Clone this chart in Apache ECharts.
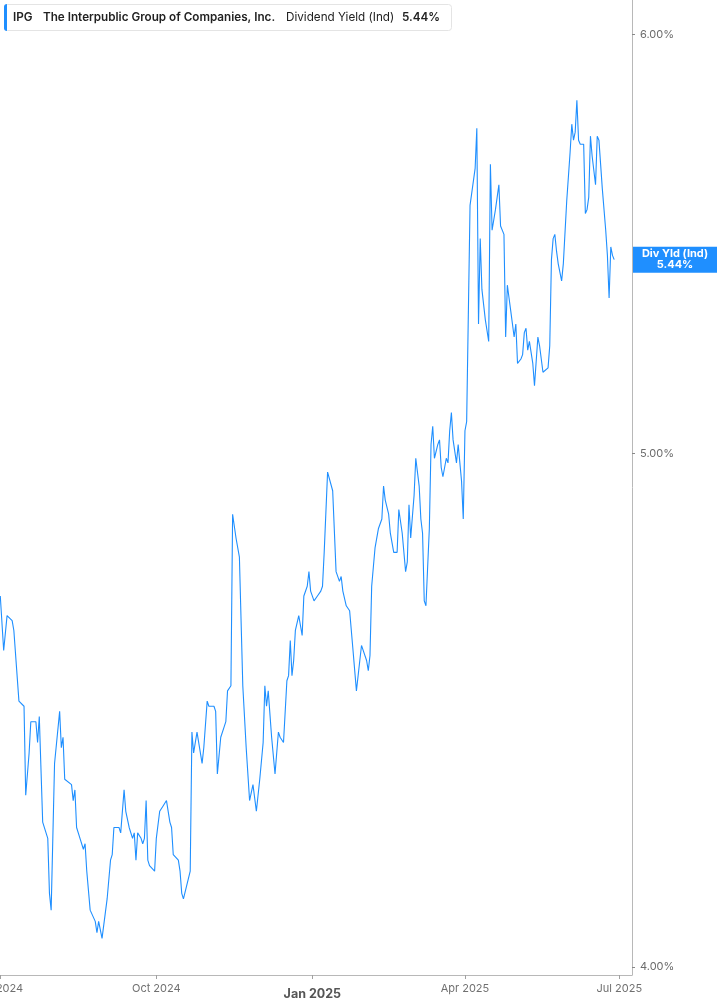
<!DOCTYPE html>
<html><head><meta charset="utf-8">
<script src="https://cdn.jsdelivr.net/npm/echarts@6/dist/echarts.min.js"></script>
<style>html,body{margin:0;padding:0;background:#fff}#c{width:717px;height:1005px}</style>
</head><body><div id="c"></div>
<script>
const dates = [
'2024-07-01','2024-07-03','2024-07-05','2024-07-08','2024-07-09','2024-07-10','2024-07-12','2024-07-15','2024-07-16','2024-07-18',
'2024-07-19','2024-07-22','2024-07-23','2024-07-24','2024-07-26','2024-07-29','2024-07-30','2024-07-31','2024-08-02','2024-08-05',
'2024-08-06','2024-08-07','2024-08-08','2024-08-09','2024-08-12','2024-08-13','2024-08-14','2024-08-15','2024-08-17','2024-08-19',
'2024-08-20','2024-08-21','2024-08-22','2024-08-23','2024-08-26','2024-08-27','2024-08-28','2024-08-29','2024-08-30','2024-09-02',
'2024-09-04','2024-09-05','2024-09-06','2024-09-09','2024-09-10','2024-09-12','2024-09-13','2024-09-15','2024-09-17','2024-09-18',
'2024-09-19','2024-09-20','2024-09-22','2024-09-23','2024-09-24','2024-09-25','2024-09-26','2024-09-27','2024-09-30','2024-10-01',
'2024-10-03','2024-10-05','2024-10-07','2024-10-09','2024-10-10','2024-10-11','2024-10-14','2024-10-15','2024-10-16','2024-10-17',
'2024-10-18','2024-10-21','2024-10-22','2024-10-23','2024-10-25','2024-10-28','2024-10-29','2024-10-30','2024-10-31','2024-11-01',
'2024-11-04','2024-11-05','2024-11-06','2024-11-08','2024-11-10','2024-11-11','2024-11-12','2024-11-13','2024-11-14','2024-11-15',
'2024-11-17','2024-11-19','2024-11-21','2024-11-23','2024-11-25','2024-11-27','2024-11-29','2024-12-01','2024-12-03','2024-12-04',
'2024-12-05','2024-12-06','2024-12-08','2024-12-10','2024-12-12','2024-12-13','2024-12-15','2024-12-16','2024-12-17','2024-12-18',
'2024-12-19','2024-12-20','2024-12-21','2024-12-22','2024-12-24','2024-12-25','2024-12-26','2024-12-27','2024-12-29','2024-12-30',
'2024-12-31','2025-01-02','2025-01-04','2025-01-06','2025-01-07','2025-01-08','2025-01-10','2025-01-13','2025-01-15','2025-01-17',
'2025-01-18','2025-01-19','2025-01-21','2025-01-22','2025-01-23','2025-01-25','2025-01-27','2025-01-29','2025-01-30','2025-01-31',
'2025-02-02','2025-02-03','2025-02-04','2025-02-05','2025-02-06','2025-02-07','2025-02-09','2025-02-10','2025-02-11','2025-02-12',
'2025-02-13','2025-02-15','2025-02-16','2025-02-18','2025-02-20','2025-02-21','2025-02-23','2025-02-25','2025-02-26','2025-02-27',
'2025-02-28','2025-03-02','2025-03-03','2025-03-05','2025-03-06','2025-03-07','2025-03-08','2025-03-09','2025-03-10','2025-03-11',
'2025-03-12','2025-03-13','2025-03-14','2025-03-16','2025-03-17','2025-03-18','2025-03-19','2025-03-21','2025-03-22','2025-03-23',
'2025-03-24','2025-03-25','2025-03-27','2025-03-28','2025-03-30','2025-03-31','2025-04-01','2025-04-02','2025-04-04','2025-04-07',
'2025-04-08','2025-04-09','2025-04-10','2025-04-11','2025-04-13','2025-04-15','2025-04-16','2025-04-17','2025-04-19','2025-04-20',
'2025-04-21','2025-04-22','2025-04-24','2025-04-25','2025-04-26','2025-04-27','2025-04-28','2025-04-30','2025-05-01','2025-05-02',
'2025-05-04','2025-05-05','2025-05-06','2025-05-07','2025-05-08','2025-05-09','2025-05-11','2025-05-12','2025-05-13','2025-05-14',
'2025-05-15','2025-05-17','2025-05-18','2025-05-20','2025-05-21','2025-05-22','2025-05-23','2025-05-24','2025-05-25','2025-05-26',
'2025-05-28','2025-05-29','2025-05-30','2025-05-31','2025-06-02','2025-06-03','2025-06-04','2025-06-05','2025-06-06','2025-06-07',
'2025-06-08','2025-06-10','2025-06-11','2025-06-12','2025-06-13','2025-06-14','2025-06-15','2025-06-17','2025-06-18','2025-06-19',
'2025-06-20','2025-06-21','2025-06-23','2025-06-24','2025-06-25','2025-06-26','2025-06-27','2025-06-28'
];
const values = [
4.70,4.59,4.66,4.65,4.63,4.63,4.49,4.48,4.31,4.39,
4.45,4.45,4.41,4.46,4.26,4.23,4.13,4.10,4.37,4.47,
4.40,4.42,4.34,4.34,4.33,4.30,4.32,4.25,4.23,4.21,
4.22,4.17,4.17,4.10,4.08,4.06,4.08,4.08,4.05,4.12,
4.19,4.20,4.25,4.25,4.24,4.32,4.28,4.25,4.23,4.24,
4.19,4.24,4.23,4.22,4.23,4.30,4.19,4.18,4.17,4.23,
4.28,4.29,4.30,4.26,4.25,4.20,4.19,4.17,4.13,4.12,
4.12,4.17,4.43,4.39,4.43,4.37,4.40,4.40,4.49,4.48,
4.48,4.47,4.35,4.42,4.44,4.45,4.51,4.51,4.52,4.87,
4.82,4.78,4.52,4.40,4.30,4.33,4.28,4.34,4.41,4.52,
4.48,4.51,4.42,4.35,4.43,4.42,4.41,4.41,4.53,4.54,
4.61,4.54,4.57,4.63,4.66,4.64,4.62,4.70,4.72,4.75,
4.71,4.69,4.70,4.71,4.72,4.79,4.96,4.92,4.75,4.73,
4.74,4.71,4.68,4.68,4.67,4.59,4.51,4.57,4.60,4.60,
4.57,4.55,4.58,4.72,4.76,4.80,4.84,4.85,4.86,4.93,
4.90,4.87,4.83,4.79,4.79,4.88,4.83,4.75,4.77,4.89,
4.82,4.91,4.99,4.93,4.86,4.83,4.69,4.68,4.68,4.84,
5.02,5.06,4.99,5.02,5.03,4.97,4.95,4.99,4.98,5.05,
5.09,5.03,4.98,5.02,4.94,4.86,5.05,5.07,5.57,5.66,
5.76,5.29,5.49,5.37,5.30,5.25,5.67,5.51,5.56,5.59,
5.62,5.52,5.50,5.26,5.38,5.35,5.32,5.26,5.29,5.20,
5.21,5.22,5.27,5.28,5.23,5.25,5.20,5.15,5.15,5.26,
5.24,5.18,5.18,5.19,5.24,5.44,5.49,5.50,5.46,5.43,
5.39,5.43,5.43,5.58,5.70,5.77,5.73,5.75,5.83,5.73,
5.72,5.72,5.55,5.56,5.59,5.74,5.69,5.62,5.74,5.73,
5.67,5.61,5.51,5.45,5.35,5.47,5.45,5.44
];
const yTicks = [4, 5, 6];
const xTicks = ['2024-07-01','2024-10-01','2025-01-01','2025-04-01','2025-07-01'];
const ticker = 'IPG';
const company = 'The Interpublic Group of Companies, Inc.';
const metric = 'Dividend Yield (Ind)';
const shortMetric = 'Div Yld (Ind)';
const MONTHS = ['Jan','Feb','Mar','Apr','May','Jun','Jul','Aug','Sep','Oct','Nov','Dec'];

const ts = s => Date.parse(s.length > 10 ? s : s + 'T00:00:00Z');
const lastValue = values[values.length - 1];
const seriesData = dates.map((d, i) => [ts(d), values[i]]);
const xTickTs = xTicks.map(ts);
const BLUE = '#1f8fff';
const FONT = 'Inter, Roboto, sans-serif';

const chart = echarts.init(document.getElementById('c'));
chart.setOption({
  animation: false,
  backgroundColor: '#ffffff',
  grid: { left: 0, right: 85, top: 0, bottom: 30, containLabel: false, outerBoundsMode: 'none' },
  xAxis: {
    type: 'value',
    min: ts('2024-06-30T20:00:00Z'),
    max: ts('2025-07-08T12:00:00Z'),
    axisLine: { show: true, lineStyle: { color: '#b8b8b8', width: 1 } },
    axisTick: { show: true, customValues: xTickTs, length: 4, lineStyle: { color: '#a0a0a0' } },
    splitLine: { show: false },
    axisLabel: {
      customValues: xTickTs,
      margin: 8,
      color: '#707070',
      fontFamily: FONT,
      fontSize: 11,
      formatter: function (v) {
        const d = new Date(v);
        const s = MONTHS[d.getUTCMonth()] + ' ' + d.getUTCFullYear();
        return d.getUTCMonth() === 0 ? '{b|' + s + '}' : s;
      },
      rich: { b: { fontWeight: 'bold', fontSize: 12.5, color: '#555555', fontFamily: FONT, padding: [5, 0, 0, 0] } }
    }
  },
  yAxis: {
    type: 'log',
    logBase: 10,
    position: 'right',
    min: 3.986,
    max: 6.09,
    axisLine: { show: true, lineStyle: { color: '#b8b8b8', width: 1 } },
    axisTick: { show: true, customValues: yTicks, length: 3, lineStyle: { color: '#888888' } },
    splitLine: { show: false },
    axisLabel: {
      customValues: yTicks,
      margin: 8,
      color: '#6b6b6b',
      fontFamily: FONT,
      fontSize: 11,
      formatter: v => Number(v).toFixed(2) + '%'
    }
  },
  series: [{
    type: 'line',
    data: seriesData,
    showSymbol: false,
    symbol: 'none',
    clip: false,
    lineStyle: { color: BLUE, width: 1.1 },
    markLine: {
      silent: true,
      symbol: 'none',
      lineStyle: { color: 'rgba(0,0,0,0)', width: 1 },
      data: [{ yAxis: lastValue }],
      label: {
        show: true,
        position: 'end',
        distance: 1,
        backgroundColor: BLUE,
        padding: [2, 4, 2, 4],
        formatter: '{a|' + shortMetric + '}\n{a|' + lastValue.toFixed(2) + '%}',
        rich: { a: { width: 76, align: 'center', color: '#ffffff', fontWeight: 'bold', fontSize: 11, lineHeight: 11, fontFamily: FONT } }
      }
    }
  }],
  graphic: [
    { type: 'rect', z: 100, shape: { x: 4.5, y: 4.5, width: 447, height: 26, r: 3 }, style: { fill: '#ffffff', stroke: '#e4e4e4', lineWidth: 1 } },
    { type: 'rect', z: 101, shape: { x: 4, y: 4, width: 3, height: 27, r: [3, 0, 0, 3] }, style: { fill: BLUE } },
    { type: 'text', z: 102, x: 13, y: 17, style: { text: ticker, fill: '#222', font: '600 11.7px ' + FONT, textVerticalAlign: 'middle' } },
    { type: 'text', z: 102, x: 43, y: 17, style: { text: company, fill: '#222', font: '600 11.7px ' + FONT, textVerticalAlign: 'middle' } },
    { type: 'text', z: 102, x: 286, y: 17, style: { text: metric, fill: '#222', font: '400 11.7px ' + FONT, textVerticalAlign: 'middle' } },
    { type: 'text', z: 102, x: 402, y: 17, style: { text: lastValue.toFixed(2) + '%', fill: '#222', font: '600 11.7px ' + FONT, textVerticalAlign: 'middle' } }
  ]
});
</script>
</body></html>
